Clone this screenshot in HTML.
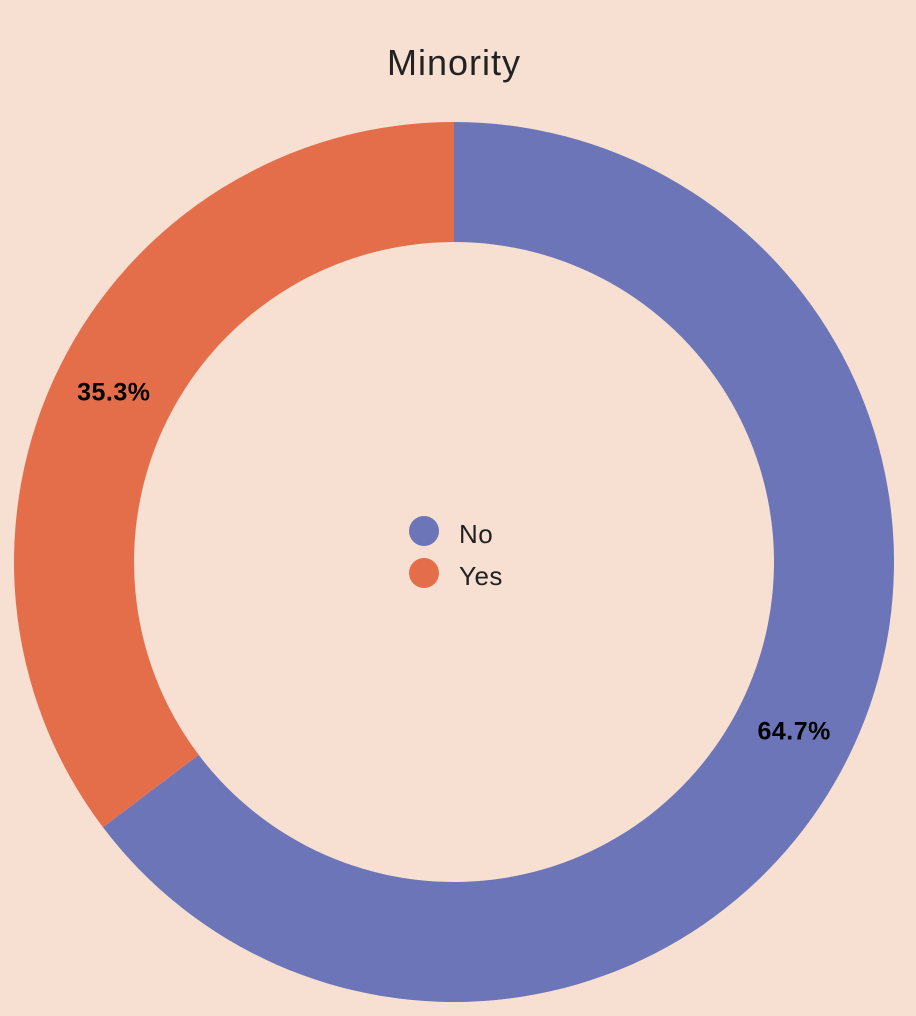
<!DOCTYPE html>
<html><head><meta charset="utf-8">
<style>
html,body{margin:0;padding:0;background:#f7dfd2;}
svg{display:block;font-family:"Liberation Sans",sans-serif;}
</style></head>
<body>
<svg id="chart" width="916" height="1016" viewBox="0 0 916 1016">
<rect width="916" height="1016" fill="#f7dfd2"/>
<text x="454" y="75" text-anchor="middle" font-size="36" letter-spacing="1" fill="#222">Minority</text>
<g id="slices"></g>
<g id="labels"></g>
<g>
<circle cx="424" cy="531" r="15" fill="#6b75b7"/>
<text x="459" y="543" font-size="26" letter-spacing="0.5" fill="#222">No</text>
<circle cx="424" cy="573" r="15" fill="#e46e4a"/>
<text x="459" y="585" font-size="26" letter-spacing="0.5" fill="#222">Yes</text>
</g>
</svg>
<script>
const categories = ["No", "Yes"];
const values = [64.7, 35.3];
const colors = ["#6b75b7", "#e46e4a"];
const cx = 454, cy = 562, R = 440, r = 320, labelR = 380;
const total = values.reduce((a,b)=>a+b,0);
const NS = "http://www.w3.org/2000/svg";
const gS = document.getElementById("slices"), gL = document.getElementById("labels");
function pt(rad, ang){ return [cx + rad*Math.sin(ang), cy - rad*Math.cos(ang)]; }
let acc = 0;
values.forEach((v,i)=>{
  const a0 = acc/total*2*Math.PI; acc += v;
  const a1 = acc/total*2*Math.PI;
  const large = (a1-a0) > Math.PI ? 1 : 0;
  const [x0,y0]=pt(R,a0),[x1,y1]=pt(R,a1),[x2,y2]=pt(r,a1),[x3,y3]=pt(r,a0);
  const p = document.createElementNS(NS,"path");
  p.setAttribute("d",`M${x0},${y0} A${R},${R} 0 ${large} 1 ${x1},${y1} L${x2},${y2} A${r},${r} 0 ${large} 0 ${x3},${y3} Z`);
  p.setAttribute("fill",colors[i]);
  
  
  gS.appendChild(p);
  const am = (a0+a1)/2;
  const [lx,ly] = pt(labelR, am);
  const t = document.createElementNS(NS,"text");
  t.setAttribute("x",lx); t.setAttribute("y",ly+8);
  t.setAttribute("text-anchor","middle");
  t.setAttribute("font-size","25"); t.setAttribute("font-weight","bold"); t.setAttribute("fill","#000");
  t.setAttribute("letter-spacing","0.5");
  t.textContent = (v/total*100).toFixed(1)+"%";
  
  
  gL.appendChild(t);
});
</script>
</body></html>
